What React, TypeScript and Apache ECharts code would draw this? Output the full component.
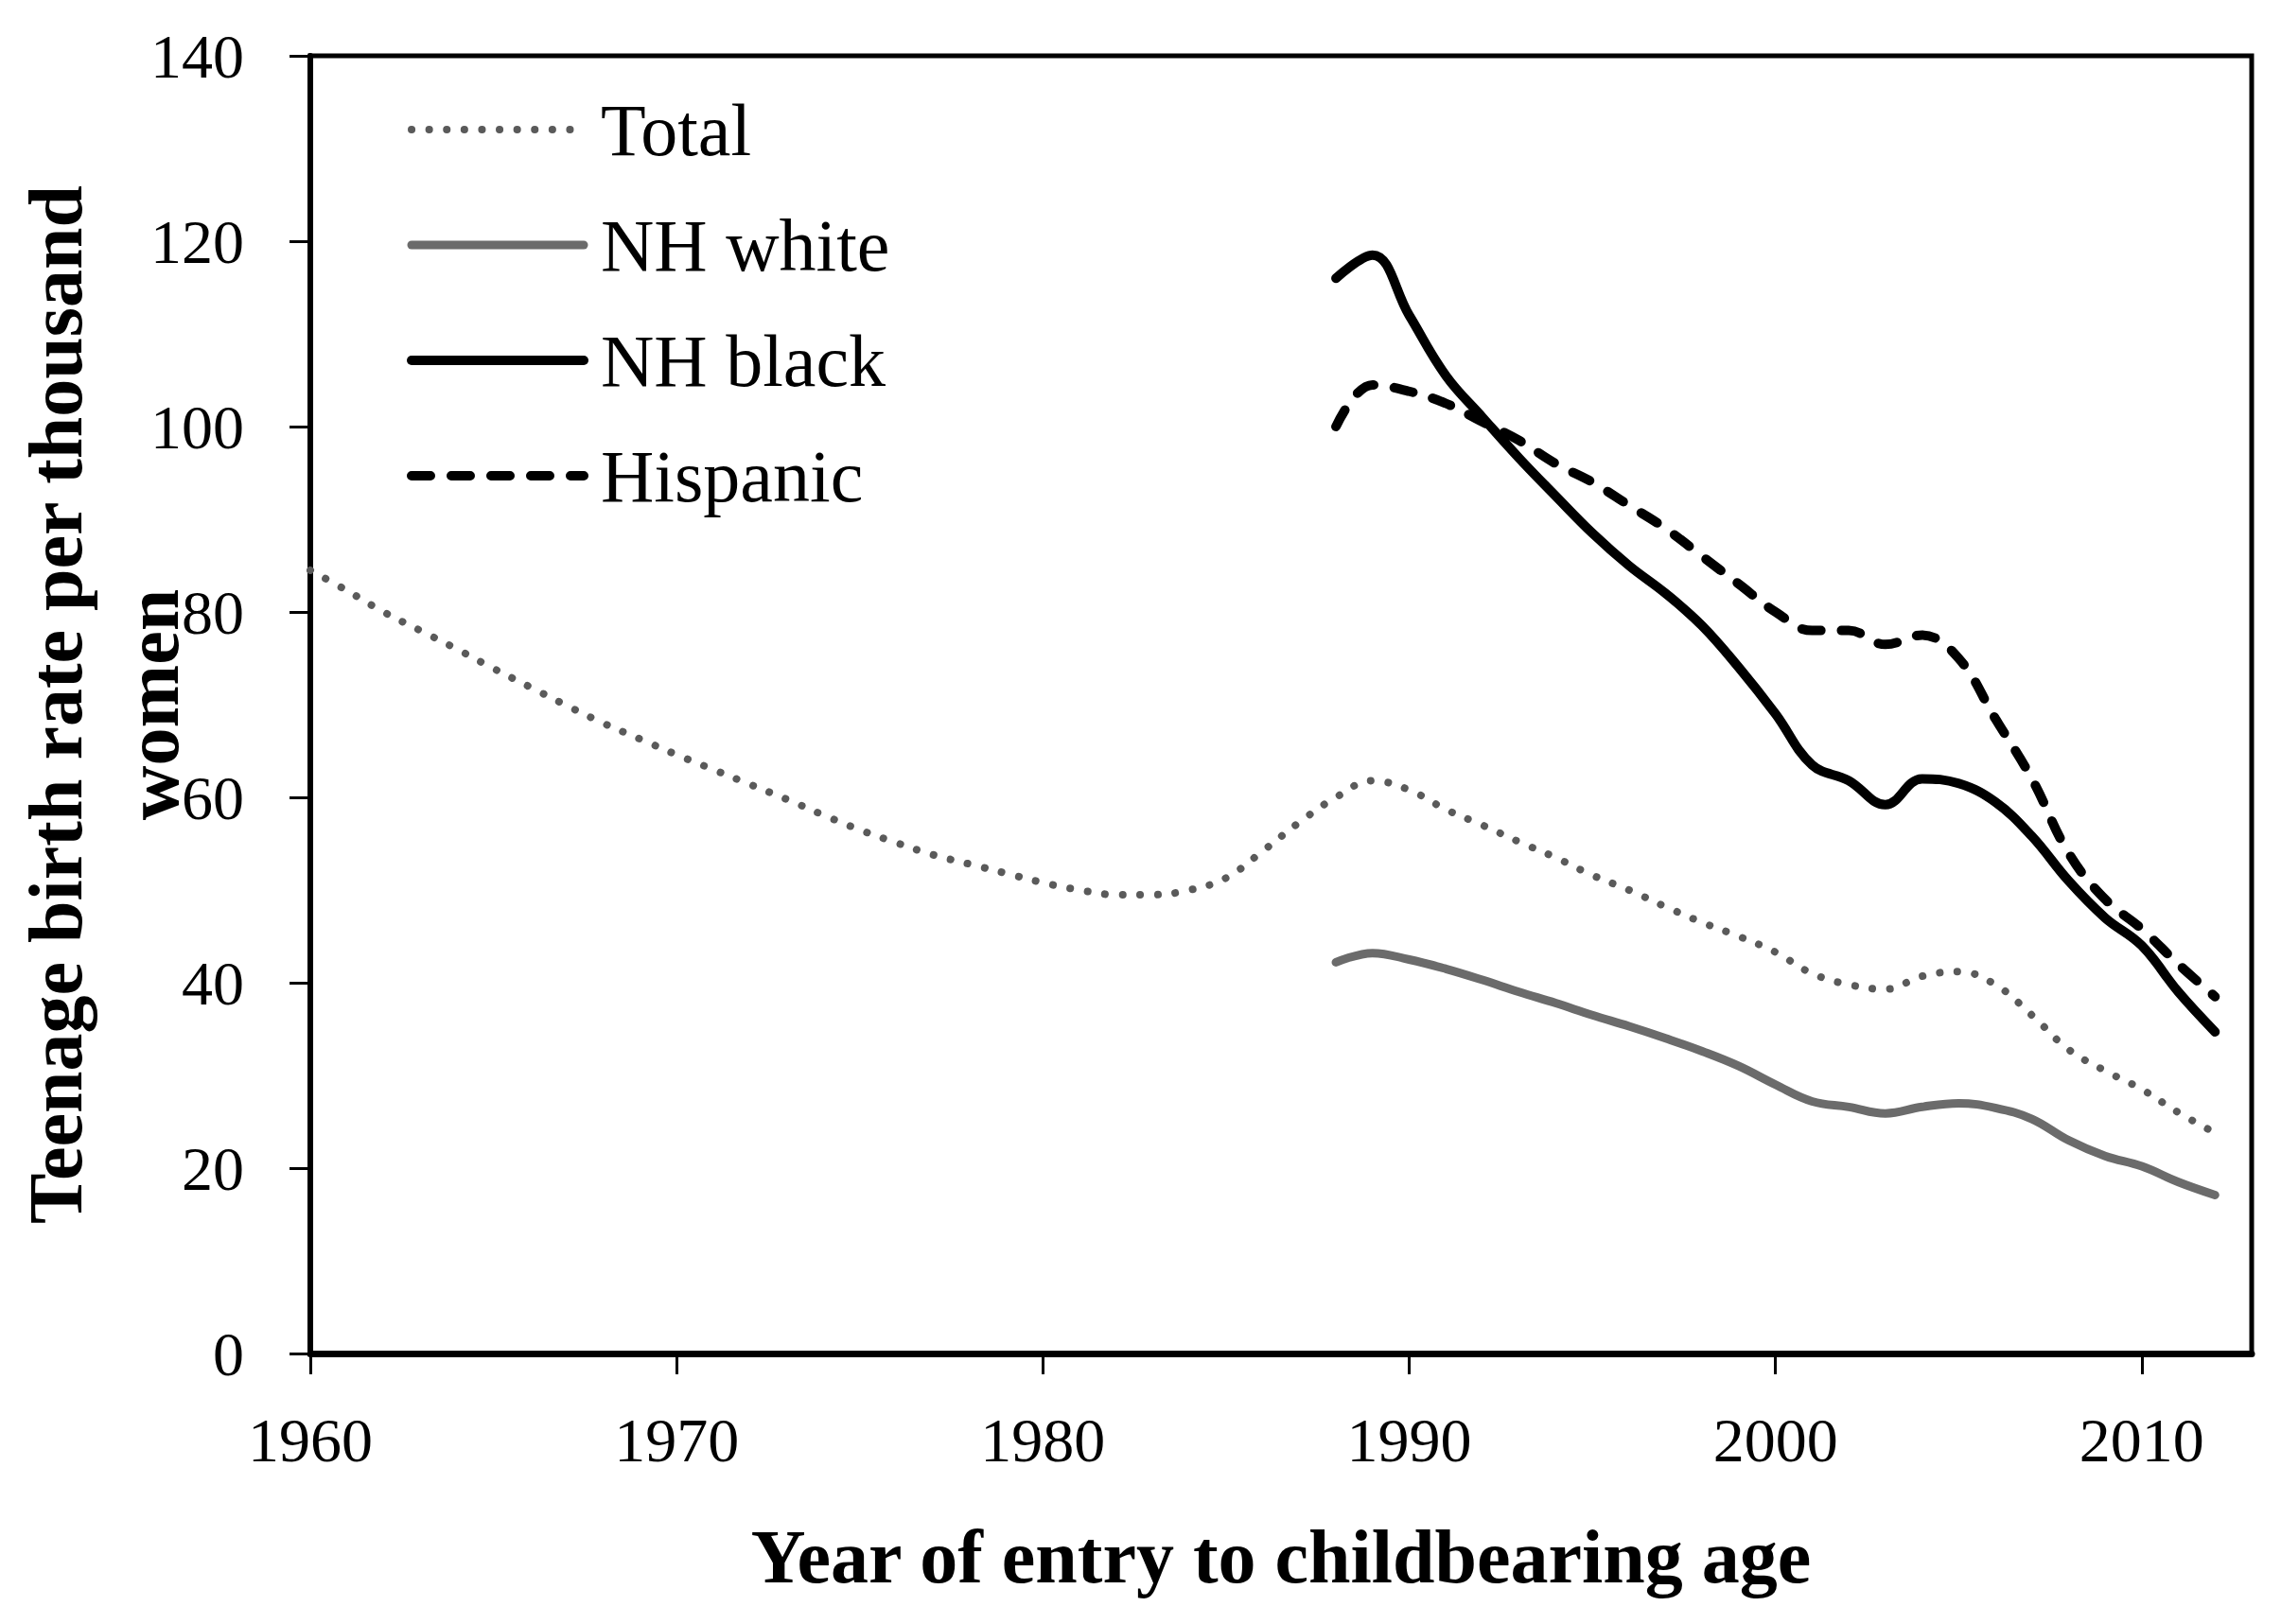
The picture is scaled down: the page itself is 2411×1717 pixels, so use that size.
import React, { useEffect, useRef } from "react";
import * as echarts from "echarts";

const totalYears: number[] = [
  1960, 1961, 1962, 1963, 1964, 1965, 1966, 1967, 1968, 1969,
  1970, 1971, 1972, 1973, 1974, 1975, 1976, 1977, 1978, 1979,
  1980, 1981, 1982, 1983, 1984, 1985, 1986, 1987, 1988, 1989,
  1990, 1991, 1992, 1993, 1994, 1995, 1996, 1997, 1998, 1999,
  2000, 2001, 2002, 2003, 2004, 2005, 2006, 2007, 2008, 2009,
  2010, 2011, 2012,
];
const totalValues: number[] = [
  84.5, 82.3, 80.0, 78.0, 76.0, 73.9, 71.9, 69.9, 68.0, 66.3,
  64.6, 63.0, 61.4, 59.8, 58.1, 56.5, 55.1, 53.8, 52.8, 51.8,
  50.8, 50.0, 49.5, 49.5, 50.0, 51.3, 54.2, 57.3, 60.0, 61.8,
  60.8, 58.7, 57.0, 55.2, 53.5, 51.6, 50.0, 48.2, 46.5, 45.0,
  43.3, 41.0, 39.8, 39.3, 40.7, 41.2, 39.8, 36.5, 32.8, 30.5,
  28.5, 26.0, 23.8,
];

const groupYears: number[] = [
  1988, 1989, 1990, 1991, 1992, 1993, 1994, 1995, 1996, 1997,
  1998, 1999, 2000, 2001, 2002, 2003, 2004, 2005, 2006, 2007,
  2008, 2009, 2010, 2011, 2012,
];
const whiteValues: number[] = [
  42.2, 43.2, 42.5, 41.5, 40.3, 39.0, 37.8, 36.5, 35.3, 34.0,
  32.6, 31.0, 29.0, 27.2, 26.6, 25.9, 26.6, 27.0, 26.5, 25.3,
  23.0, 21.3, 20.2, 18.5, 17.1,
];
const blackValues: number[] = [
  116.0, 118.5, 112.0, 105.5, 101.0, 96.6, 92.5, 88.5, 85.0, 82.0,
  78.5, 74.0, 69.0, 63.5, 61.8, 59.2, 62.0, 61.5, 59.5, 55.8,
  51.0, 47.0, 44.0, 39.0, 34.7,
];
const hispanicValues: number[] = [
  100.0, 104.5, 103.8, 102.5, 100.5, 98.5, 96.0, 94.0, 91.5, 89.0,
  86.0, 83.0, 80.0, 78.0, 78.0, 76.5, 77.5, 75.0, 68.5, 62.0,
  54.0, 49.0, 45.8, 42.0, 38.5,
];

const seriesNames: string[] = ["Total", "NH white", "NH black", "Hispanic"];
const xTicks = { min: 1960, max: 2013, interval: 10 };
const yTicks = { min: 0, max: 140, interval: 20 };

const FONT = "'Liberation Serif', 'Times New Roman', serif";

function pairs(xs: number[], ys: number[]): number[][] {
  return xs.map((x, i) => [x, ys[i]]);
}

export default function App() {
  const ref = useRef<HTMLDivElement>(null);
  useEffect(() => {
    if (!ref.current) return;
    const chart = echarts.init(ref.current, undefined, { renderer: "svg" });
    chart.setOption({
      animation: false,
      backgroundColor: "#ffffff",
      grid: {
        left: 328,
        right: 31,
        top: 59,
        bottom: 286,
        containLabel: false,
        outerBoundsMode: "none",
        show: true,
        borderColor: "#000",
        borderWidth: 5,
        backgroundColor: "transparent",
      },
      legend: {
        orient: "vertical",
        left: 425,
        top: 92,
        itemWidth: 182,
        itemHeight: 20,
        itemGap: 42,
        data: seriesNames,
        itemStyle: { color: "rgba(0,0,0,0)", borderWidth: 0, opacity: 0 },
        lineStyle: { width: "inherit" },
        textStyle: {
          fontFamily: FONT,
          fontSize: 78,
          lineHeight: 80,
          color: "#000",
          padding: [0, 0, 0, 13],
        },
      },
      xAxis: {
        type: "value",
        min: xTicks.min,
        max: xTicks.max,
        interval: xTicks.interval,
        splitLine: { show: false },
        axisLine: { show: true, lineStyle: { color: "#000", width: 7 } },
        axisTick: { show: true, length: 22, lineStyle: { color: "#000", width: 3 } },
        axisLabel: {
          fontFamily: FONT,
          fontSize: 66,
          color: "#000",
          margin: 58,
          formatter: (v: number) => String(v),
        },
        name: "Year of entry to childbearing age",
        nameLocation: "middle",
        nameGap: 175,
        nameMoveOverlap: false,
        nameTextStyle: {
          fontFamily: FONT,
          fontSize: 80,
          fontWeight: "bold",
          color: "#000",
        },
      },
      yAxis: {
        type: "value",
        min: yTicks.min,
        max: yTicks.max,
        interval: yTicks.interval,
        splitLine: { show: false },
        axisLine: { show: true, lineStyle: { color: "#000", width: 6 } },
        axisTick: { show: true, length: 22, lineStyle: { color: "#000", width: 3 } },
        axisLabel: {
          fontFamily: FONT,
          fontSize: 66,
          color: "#000",
          margin: 70,
        },
        name: "Teenage birth rate per thousand\nwomen",
        nameLocation: "middle",
        nameGap: 116,
        nameMoveOverlap: false,
        nameRotate: 90,
        nameTextStyle: {
          fontFamily: FONT,
          fontSize: 80,
          fontWeight: "bold",
          color: "#000",
          lineHeight: 102,
        },
      },
      series: [
        {
          name: seriesNames[0],
          type: "line",
          data: pairs(totalYears, totalValues),
          smooth: 0.4,
          symbol: "none",
          lineStyle: { color: "#5a5a5a", width: 8, type: [0.1, 18.5], cap: "round" },
          itemStyle: { color: "#5a5a5a" },
          z: 2,
        },
        {
          name: seriesNames[1],
          type: "line",
          data: pairs(groupYears, whiteValues),
          smooth: 0.4,
          symbol: "none",
          lineStyle: { color: "#6b6b6b", width: 9, cap: "round" },
          itemStyle: { color: "#6b6b6b" },
          z: 3,
        },
        {
          name: seriesNames[2],
          type: "line",
          data: pairs(groupYears, blackValues),
          smooth: 0.4,
          symbol: "none",
          lineStyle: { color: "#000", width: 10, cap: "round" },
          itemStyle: { color: "#000" },
          z: 4,
        },
        {
          name: seriesNames[3],
          type: "line",
          data: pairs(groupYears, hispanicValues),
          smooth: 0.4,
          symbol: "none",
          lineStyle: { color: "#000", width: 10, type: [20, 22], cap: "round" },
          itemStyle: { color: "#000" },
          z: 4,
        },
      ],
    });
    return () => chart.dispose();
  }, []);
  return (
    <div
      ref={ref}
      style={{ position: "absolute", left: 0, top: 0, width: 2411, height: 1717 }}
    />
  );
}
